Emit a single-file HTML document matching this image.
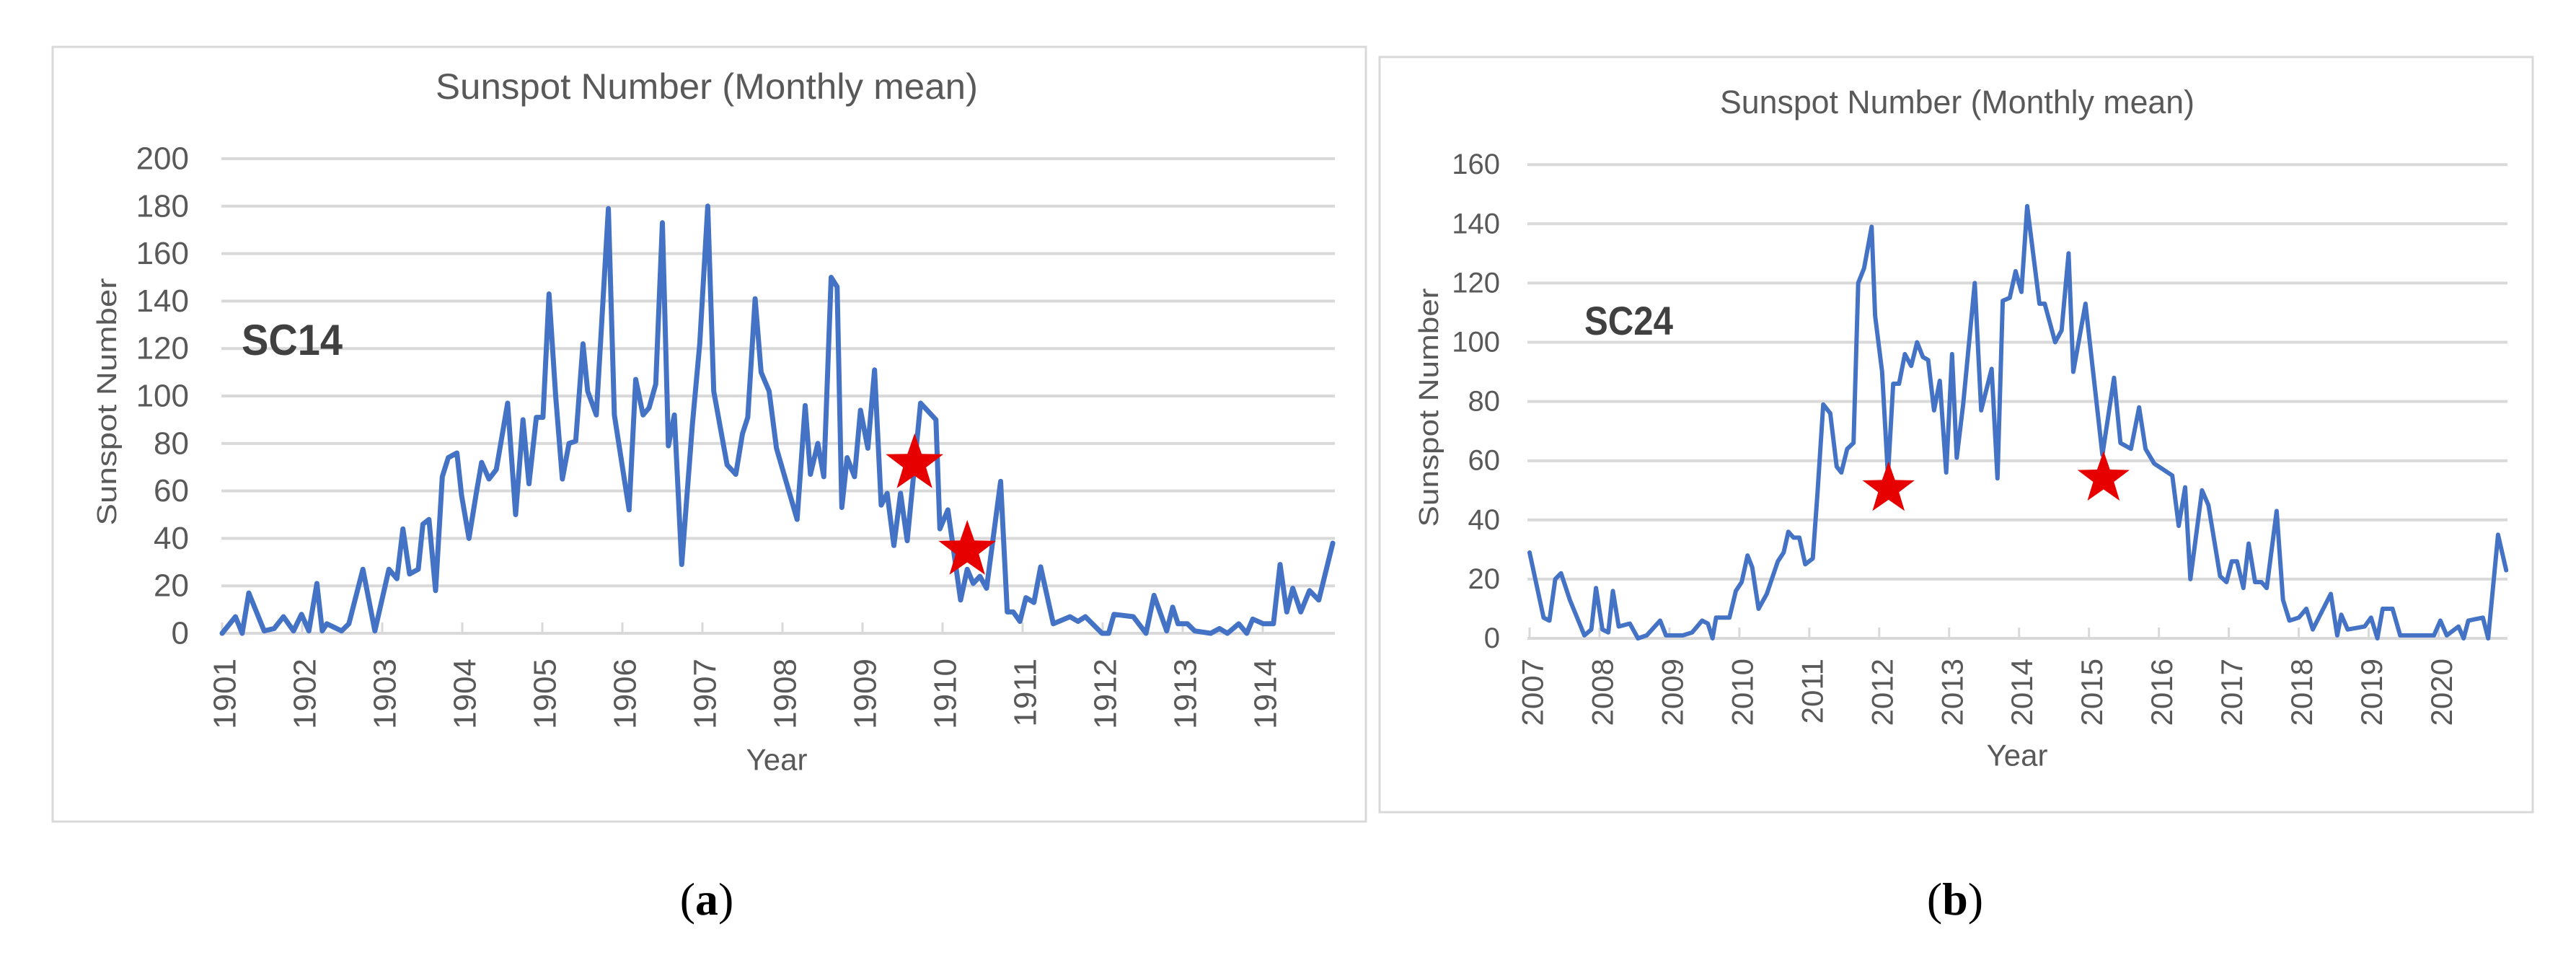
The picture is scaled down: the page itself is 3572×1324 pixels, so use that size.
<!DOCTYPE html>
<html><head><meta charset="utf-8"><style>
html,body{margin:0;padding:0;background:#fff;}
svg{display:block;font-family:"Liberation Sans",Arial,sans-serif;}
</style></head><body>
<svg id="fig" width="3572" height="1324" viewBox="0 0 3572 1324" xmlns="http://www.w3.org/2000/svg">
<rect x="0" y="0" width="3572" height="1324" fill="#fff"/>
<rect x="73" y="65" width="1821" height="1074" fill="#fff" stroke="#d9d9d9" stroke-width="3"/>
<rect x="1913" y="79" width="1599" height="1047" fill="#fff" stroke="#d9d9d9" stroke-width="3"/>
<g id="chartA"></g>
<g id="chartB"></g>
<text x="980" y="1268" text-anchor="middle" font-family="'Liberation Serif',serif" font-size="64" fill="#000">(<tspan font-weight="bold">a</tspan>)</text>
<text x="2711" y="1268" text-anchor="middle" font-family="'Liberation Serif',serif" font-size="64" fill="#000">(<tspan font-weight="bold">b</tspan>)</text>
</svg>
<script>
// ---- SC14 data (months since Jan 1901, monthly mean sunspot number) ----
const sc14Month = [0,2,3,4,6.3,7.8,9.2,10.7,11.9,13,14.2,15,15.7,17.9,19,21.1,22.9,25,26.2,27.1,28.1,29.4,30.1,31,32,33,33.9,35.2,35.9,37,38.1,38.9,40,41.1,42.8,44,45.1,46,47.1,48.1,49,50,51,52,53,54.1,54.8,56.1,57.9,58.8,61,62,63.1,64,65,66,66.9,67.8,68.9,70.5,71.6,72.8,73.7,75.7,77,78,78.8,79.9,80.8,82,83.1,86.2,87.4,88.2,89.3,90.2,91.3,92.2,92.9,93.7,94.8,95.7,96.8,97.8,98.8,99.7,100.7,101.7,102.7,104.7,107,107.6,108.8,110.7,111.7,112.6,113.6,114.6,116.7,117.7,118.6,119.6,120.5,121.7,122.7,124.6,127.1,128.3,129.4,131.9,132.9,133.7,136.6,138.5,139.7,141.6,142.5,143.3,144.7,145.8,148.2,149.5,150.7,152.4,153.6,154.5,156.1,157.6,158.6,159.6,160.5,161.7,163,164.4,166.5];
const sc14Value = [0,7,0,17,1,2,7,1,8,1,21,1,4,1,4,27,1,27,23,44,25,27,46,48,18,66,74,76,58,40,59,72,65,69,97,50,90,63,91,91,143,100,65,80,81,122,102,92,179,92,52,107,92,95,105,173,79,92,29,88,122,180,102,71,67,84,91,141,110,102,78,48,96,67,80,66,150,146,53,74,66,94,78,111,54,59,37,59,39,97,90,44,52,14,27,21,24,19,64,9,9,5,15,13,28,4,7,5,7,0,0,8,7,0,16,1,11,4,4,1,0,2,0,4,0,6,4,4,29,9,19,9,18,14,38];
const sc14StarMonth = [103.8,111.7];
const sc14StarValue = [71.5,35];
const sc14YTicks = [0,20,40,60,80,100,120,140,160,180,200];
const sc14Years = ["1901","1902","1903","1904","1905","1906","1907","1908","1909","1910","1911","1912","1913","1914"];

// ---- SC24 data (months since Jan 2007) ----
const sc24Month = [0,2.4,3.4,4.4,5.4,6.9,9.4,10.6,11.4,12.5,13.5,14.3,15.3,17.2,18.6,20.1,22.4,23.4,26.3,27.9,29.6,30.6,31.4,32,34.3,35.4,36.4,37.4,38.2,39.3,40.7,42.6,43.6,44.4,45.3,46.3,47.3,48.6,49.4,50.4,51.6,52.7,53.5,54.5,55.6,56.4,57.4,58.7,59.3,60.5,61.5,62.4,63.4,64.4,65.5,66.5,67.5,68.4,69.4,70.4,71.5,72.5,73.3,74.4,76.4,77.5,79.3,80.3,81.2,82.4,83.4,84.4,85.4,87.5,88.4,90.2,91.3,92.5,93.3,95.4,98.3,100.3,101.4,103.2,104.6,105.7,107.2,110.3,111.4,112.5,113.4,115.4,116.5,118.5,119.6,120.5,121.4,122.5,123.4,124.5,125.6,126.5,128.2,129.3,130.4,132,133.3,134.4,137.5,138.6,139.3,140.4,143.3,144.4,145.5,146.4,148.1,149.4,152.9,155.2,156.3,157.4,159.4,160.3,161.1,163.6,164.5,166.2,167.6];
const sc24Value = [29,7,6,20,22,13,1,3,17,3,2,16,4,5,0,1,6,1,1,2,6,5,0,7,7,16,19,28,24,10,15,26,29,36,34,34,25,27,49,79,76,58,56,64,66,120,125,139,109,90,55,86,86,96,92,100,95,94,77,87,56,96,61,79,120,77,91,54,114,115,124,117,146,113,113,100,104,130,90,113,62,88,66,64,78,64,59,55,38,51,20,50,45,21,19,26,26,17,32,19,19,17,43,13,6,7,10,3,15,1,8,3,4,7,0,10,10,1,1,1,6,1,4,0,6,7,0,35,23];
const sc24StarMonth = [61.6,98.5];
const sc24StarValue = [50.5,54];
const sc24YTicks = [0,20,40,60,80,100,120,140,160];
const sc24Years = ["2007","2008","2009","2010","2011","2012","2013","2014","2015","2016","2017","2018","2019","2020"];

const NS = "http://www.w3.org/2000/svg";
function mk(tag, attrs, parent){
  const e = document.createElementNS(NS, tag);
  for (const k in attrs) e.setAttribute(k, attrs[k]);
  parent.appendChild(e);
  return e;
}
function starPoints(cx, cy, R){
  const r = R*0.4; const pts=[];
  for(let i=0;i<10;i++){
    const a = -Math.PI/2 + i*Math.PI/5;
    const rr = i%2===0?R:r;
    pts.push((cx+rr*Math.cos(a)).toFixed(1)+","+(cy+rr*Math.sin(a)).toFixed(1));
  }
  return pts.join(" ");
}

function drawChart(g, cfg){
  const xs = m => cfg.x0 + m*cfg.dx;
  const ys = v => cfg.y0 - v*cfg.dy;
  // title
  const t = mk("text",{x:cfg.titleX,y:cfg.titleY,"text-anchor":"middle","font-size":cfg.titleSize,fill:"#595959",textLength:cfg.titleLen,lengthAdjust:"spacingAndGlyphs"},g);
  t.textContent = "Sunspot Number (Monthly mean)";
  
  
  // grid + y tick labels
  cfg.yTicks.forEach(v=>{
    const l = mk("line",{x1:cfg.gx1,x2:cfg.gx2,y1:ys(v),y2:ys(v),stroke:"#d9d9d9","stroke-width":4},g);
    
    
    const tx = mk("text",{x:cfg.ylx,y:ys(v),"text-anchor":"end","dominant-baseline":"central","font-size":cfg.ySize,fill:"#595959"},g);
    tx.textContent = String(v);
    
    
  });
  // x ticks and labels
  cfg.years.forEach((yr,k)=>{
    const x = xs(12*k);
    const tk = mk("line",{x1:x,x2:x,y1:cfg.y0,y2:cfg.y0-15,stroke:"#d9d9d9","stroke-width":3},g);
    
    
    const tx = mk("text",{x:x+4,y:913,"text-anchor":"end","dominant-baseline":"central","font-size":cfg.xSize,fill:"#595959",transform:`rotate(-90 ${x+4} 913)`},g);
    tx.textContent = yr;
    
    
  });
  // axis titles
  const xt = mk("text",{x:cfg.xtX,y:cfg.xtY,"text-anchor":"middle","dominant-baseline":"central","font-size":42,fill:"#595959"},g);
  xt.textContent = "Year";
  
  
  const yt = mk("text",{x:cfg.ytX,y:cfg.ytY,"text-anchor":"middle","dominant-baseline":"central","font-size":38,fill:"#595959",textLength:cfg.ytLen,lengthAdjust:"spacingAndGlyphs",transform:`rotate(-90 ${cfg.ytX} ${cfg.ytY})`},g);
  yt.textContent = "Sunspot Number";
  
  
  // cycle label
  const cl = mk("text",{x:cfg.clX,y:cfg.clY,"font-size":cfg.clSize,"font-weight":"bold",fill:"#404040",textLength:cfg.clLen,lengthAdjust:"spacingAndGlyphs"},g);
  cl.textContent = cfg.cycle;
  
  
  // series line
  const pts = cfg.months.map((m,i)=>xs(m).toFixed(1)+","+ys(cfg.values[i]).toFixed(1)).join(" ");
  const pl = mk("polyline",{points:pts,fill:"none",stroke:"#4472c4","stroke-width":cfg.lw,"stroke-linejoin":"round","stroke-linecap":"round"},g);
  
  
  // stars
  cfg.starM.forEach((m,i)=>{
    const s = mk("polygon",{points:starPoints(xs(m), ys(cfg.starV[i]), cfg.starR),fill:"#e60000"},g);
    
    
  });
}

drawChart(document.getElementById("chartA"),{
  x0:308, dx:9.25, y0:878, dy:3.29, gx1:307, gx2:1851,
  titleX:980, titleY:137, titleSize:50, titleLen:752,
  yTicks:sc14YTicks, ylx:262, ySize:44, years:sc14Years, xSize:44,
  xtX:1077, xtY:1053, ytX:149, ytY:557, ytLen:343,
  clX:335, clY:492, clSize:60, clLen:140, cycle:"SC14",
  months:sc14Month, values:sc14Value, lw:7,
  starM:sc14StarMonth, starV:sc14StarValue, starR:42
});
drawChart(document.getElementById("chartB"),{
  x0:2121, dx:8.08, y0:885, dy:4.105, gx1:2118, gx2:3477,
  titleX:2714, titleY:157, titleSize:45, titleLen:658,
  yTicks:sc24YTicks, ylx:2080, ySize:40, years:sc24Years, xSize:42,
  xtX:2797, xtY:1047, ytX:1982, ytY:565, ytLen:331,
  clX:2197, clY:464, clSize:56, clLen:123, cycle:"SC24",
  months:sc24Month, values:sc24Value, lw:6,
  starM:sc24StarMonth, starV:sc24StarValue, starR:38
});
</script>
</body></html>
